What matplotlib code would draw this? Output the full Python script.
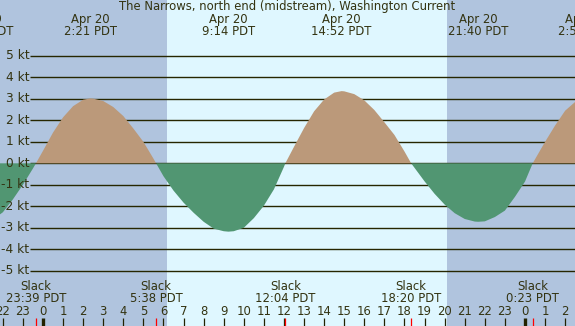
import matplotlib
matplotlib.use('Agg')
import matplotlib.pyplot as plt
import matplotlib.transforms as mtransforms
import numpy as np

# current speed (hours from Apr 20 00:00 PDT, knots)
hours = [-2.5, -2.0, -1.5, -1.0, -0.5, -0.35, 0.0, 0.5, 1.0, 1.5, 2.0, 2.35, 2.5, 3.0,
         3.5, 4.0, 4.5, 5.0, 5.5, 5.633, 6.0, 6.5, 7.0, 7.5, 8.0, 8.5, 9.0, 9.233, 9.5,
         10.0, 10.5, 11.0, 11.5, 12.0, 12.067, 12.5, 13.0, 13.5, 14.0, 14.5, 14.867,
         15.0, 15.5, 16.0, 16.5, 17.0, 17.5, 18.0, 18.333, 18.5, 19.0, 19.5, 20.0, 20.5,
         21.0, 21.5, 21.667, 22.0, 22.5, 23.0, 23.5, 24.0, 24.383, 24.5, 25.0, 25.5,
         26.0, 26.5, 27.0]
knots = [-2.62, -2.28, -1.68, -1.0, -0.24, 0.0, 0.58, 1.43, 2.14, 2.66, 2.96, 3.02, 3.01,
         2.90, 2.62, 2.20, 1.62, 1.0, 0.22, 0.0, -0.6, -1.27, -1.83, -2.3, -2.72, -3.04,
         -3.16, -3.18, -3.16, -3.0, -2.55, -1.97, -1.21, -0.16, 0.0, 0.77, 1.64, 2.42,
         2.97, 3.29, 3.36, 3.35, 3.22, 2.93, 2.48, 1.91, 1.32, 0.55, 0.0, -0.21, -0.84,
         -1.42, -1.92, -2.32, -2.59, -2.71, -2.72, -2.70, -2.5, -2.2, -1.56, -0.85, 0.0,
         0.19, 1.0, 1.76, 2.45, 2.86, 2.97]

# max current events (top labels)
max_times = [-3.0, 2.35, 9.233, 14.867, 21.667, 26.95]
max_days = ['Apr 19', 'Apr 20', 'Apr 20', 'Apr 20', 'Apr 20', 'Apr 21']
max_labels = ['21:00 PDT', '2:21 PDT', '9:14 PDT', '14:52 PDT', '21:40 PDT', '2:57 PDT']

# slack events (bottom labels)
slack_times = [-0.35, 5.633, 12.067, 18.333, 24.383]
slack_labels = ['23:39 PDT', '5:38 PDT', '12:04 PDT', '18:20 PDT', '0:23 PDT']

sunrise = 6.17
sunset = 20.12
kt_levels = [5, 4, 3, 2, 1, 0, -1, -2, -3, -4, -5]

night_col = '#b0c4de'
day_col = '#dff7ff'
flood_col = '#bb997a'
ebb_col = '#519672'
txt_col = '#333311'
fs = 8.4

fig = plt.figure(figsize=(5.75, 3.26), dpi=100)
ax = fig.add_axes([0, 0, 1, 1])
ax.set_xlim(-2.14, 26.49)
ax.set_ylim(-7.57, 7.6)
ax.axis('off')
fig.patch.set_facecolor(night_col)

ax.axvspan(-5, sunrise, color=night_col, lw=0, zorder=0)
ax.axvspan(sunrise, sunset, color=day_col, lw=0, zorder=0)
ax.axvspan(sunset, 30, color=night_col, lw=0, zorder=0)

# grid lines + labels
ax.hlines(kt_levels, -0.65, 30, color='#262600', lw=1.0, zorder=1)
for k in kt_levels:
    ax.text(-0.68, k, '%d kt' % k, ha='right', va='center', fontsize=fs + 0.4,
            color=txt_col, zorder=3)

h = np.array(hours)
v = np.array(knots)
ax.fill_between(h, v, 0, where=v >= 0, color=flood_col, lw=0, zorder=2)
ax.fill_between(h, v, 0, where=v <= 0, color=ebb_col, lw=0, zorder=2)

trans = mtransforms.blended_transform_factory(ax.transData, ax.transAxes)

ax.text(0.5, 0.979, 'The Narrows, north end (midstream), Washington Current',
        transform=ax.transAxes, ha='center', va='center', fontsize=fs, color=txt_col)
for t, d, lab in zip(max_times, max_days, max_labels):
    ax.text(t, 0.939, d, transform=trans, ha='center', va='center', fontsize=fs, color=txt_col)
    ax.text(t, 0.903, lab, transform=trans, ha='center', va='center', fontsize=fs, color=txt_col)

for t, lab in zip(slack_times, slack_labels):
    ax.text(t, 0.1206, 'Slack', transform=trans, ha='center', va='center', fontsize=fs, color=txt_col)
    ax.text(t, 0.083, lab, transform=trans, ha='center', va='center', fontsize=fs, color=txt_col)

# hour ticks along the bottom
for hr in range(-2, 27):
    ax.text(hr, 0.0445, str(hr % 24), transform=trans, ha='center', va='center',
            fontsize=fs, color=txt_col)
    w = 2.4 if hr % 24 == 0 else 0.9
    ax.vlines(hr, 0.0, 0.025, transform=trans, color='#222200', lw=w, zorder=3)
ax.vlines(slack_times, 0.0, 0.025, transform=trans, color='#ff0000', lw=0.9, zorder=3)

fig.savefig('out.png', dpi=100, facecolor=fig.get_facecolor())
